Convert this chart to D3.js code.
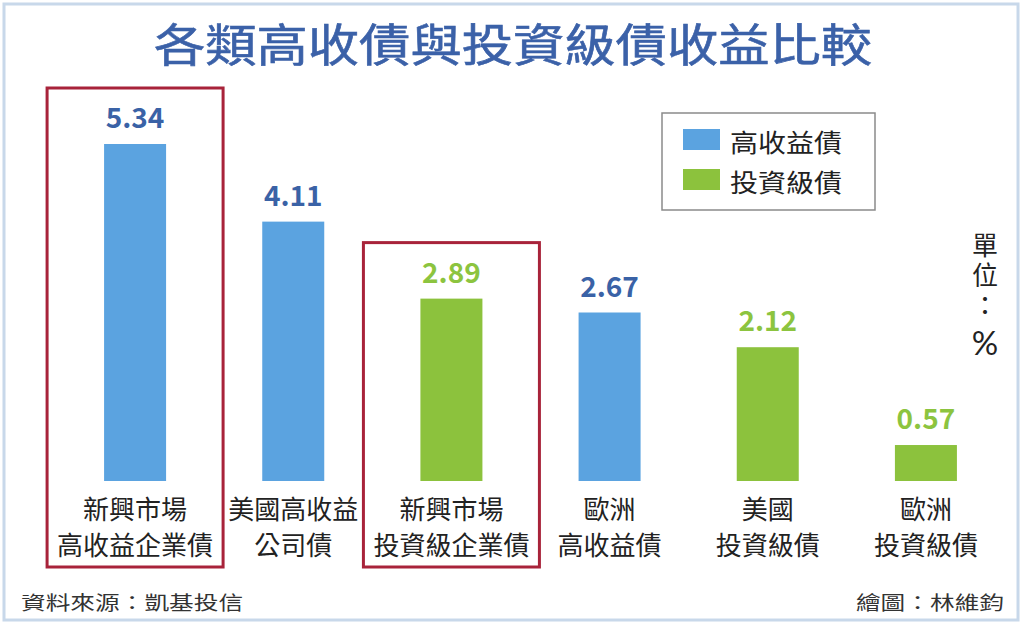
<!DOCTYPE html>
<html>
<head>
<meta charset="utf-8">
<script src="https://cdn.jsdelivr.net/npm/d3@7"></script>
<style>
  body { margin: 0; background: #fff; }
  svg { display: block; }
  text { font-family: "Noto Sans CJK TC", "Noto Sans", sans-serif; }
</style>
</head>
<body>
<div class="chart-box"></div>
<script>
// chart data
const catLine1 = ['新興市場', '美國高收益', '新興市場', '歐洲', '美國', '歐洲'];
const catLine2 = ['高收益企業債', '公司債', '投資級企業債', '高收益債', '投資級債', '投資級債'];
const values = [5.34, 4.11, 2.89, 2.67, 2.12, 0.57];
const bondType = ['高收益債', '高收益債', '投資級債', '高收益債', '投資級債', '投資級債'];
const highlighted = [true, false, true, false, false, false];
const legendItems = ['高收益債', '投資級債'];

const W = 1024, H = 628;
const BAR_COLOR = { '高收益債': '#5ba3e0', '投資級債': '#8cc23d' };
const LABEL_COLOR = { '高收益債': '#3a62a6', '投資級債': '#8cc43f' };

const svg = d3.select('.chart-box')
  .append('svg')
    .attr('width', W)
    .attr('height', H);

// outer frame
svg.append('rect')
  .attr('x', 4).attr('y', 4)
  .attr('width', 1014).attr('height', 616)
  .attr('fill', '#fff')
  .attr('stroke', '#c8d8ea')
  .attr('stroke-width', 3);

// title
svg.append('text')
  .attr('transform', 'translate(513, 62) scale(1.14, 1)')
  .attr('text-anchor', 'middle')
  .attr('font-size', 45)
  .attr('font-weight', 400)
  .attr('fill', '#3b61a8')
  .attr('stroke', '#3b61a8')
  .attr('stroke-width', 0.6)
  .text('各類高收債與投資級債收益比較');

// scales
const idx = values.map((d, i) => i);
const x = d3.scaleBand()
  .domain(idx)
  .range([56, 1005])
  .paddingInner(0.608)
  .paddingOuter(0.304);

const y = d3.scaleLinear()
  .domain([0, 5.34])
  .range([481, 144]);

const cx = i => x(i) + x.bandwidth() / 2;

// red highlight boxes
svg.selectAll('.hl-box')
  .data(idx.filter(i => highlighted[i]))
  .enter().append('rect')
    .attr('class', 'hl-box')
    .attr('x', i => cx(i) - 88)
    .attr('y', i => y(values[i]) - 56)
    .attr('width', 176)
    .attr('height', i => 567 - (y(values[i]) - 56))
    .attr('fill', 'none')
    .attr('stroke', '#a8233a')
    .attr('stroke-width', 3);

// bars
svg.selectAll('.bar')
  .data(idx)
  .enter().append('rect')
    .attr('class', 'bar')
    .attr('x', i => x(i))
    .attr('y', i => y(values[i]))
    .attr('width', x.bandwidth())
    .attr('height', i => y(0) - y(values[i]))
    .attr('fill', i => BAR_COLOR[bondType[i]]);

// value labels
svg.selectAll('.val')
  .data(idx)
  .enter().append('text')
    .attr('class', 'val')
    .attr('x', i => cx(i))
    .attr('y', i => y(values[i]) - 16)
    .attr('text-anchor', 'middle')
    .attr('font-family', 'Lato, sans-serif')
    .attr('font-weight', 'bold')
    .attr('font-size', 28)
    .attr('fill', i => LABEL_COLOR[bondType[i]])
    .text(i => values[i].toFixed(2));

// category labels
const cat = svg.selectAll('.cat')
  .data(idx)
  .enter().append('text')
    .attr('class', 'cat')
    .attr('text-anchor', 'middle')
    .attr('font-size', 26)
    .attr('fill', '#222');
cat.append('tspan')
  .attr('x', i => cx(i))
  .attr('y', 519)
  .text(i => catLine1[i]);
cat.append('tspan')
  .attr('x', i => cx(i))
  .attr('y', 555)
  .text(i => catLine2[i]);

// legend
const legend = svg.append('g');
legend.append('rect')
  .attr('x', 662).attr('y', 113)
  .attr('width', 213).attr('height', 97)
  .attr('fill', '#fff')
  .attr('stroke', '#8a8a8a')
  .attr('stroke-width', 1.5);
const li = legend.selectAll('.leg')
  .data(legendItems)
  .enter().append('g')
    .attr('class', 'leg')
    .attr('transform', (d, i) => 'translate(683, ' + (129 + i * 40) + ')');
li.append('rect')
  .attr('width', 37).attr('height', 21)
  .attr('fill', d => BAR_COLOR[d]);
li.append('text')
  .attr('transform', 'translate(47, 23) scale(1.12, 1)')
  .attr('font-size', 25)
  .attr('fill', '#222')
  .text(d => d);

// unit, written top to bottom
const unit = svg.append('text')
  .attr('x', 985)
  .attr('y', 232)
  .attr('writing-mode', 'vertical-rl')
  .style('text-orientation', 'upright')
  .attr('font-size', 26)
  .attr('letter-spacing', 4)
  .attr('fill', '#222');
unit.append('tspan').text('單位：');
unit.append('tspan')
  .attr('font-family', 'Lato, sans-serif')
  .attr('font-size', 33)
  .text('%');

// footer
svg.append('text')
  .attr('transform', 'translate(21, 610) scale(1.3, 1)')
  .attr('font-size', 19)
  .attr('fill', '#333')
  .text('資料來源：凱基投信');
svg.append('text')
  .attr('transform', 'translate(1004, 610) scale(1.3, 1)')
  .attr('text-anchor', 'end')
  .attr('font-size', 19)
  .attr('fill', '#333')
  .text('繪圖：林維鈞');
</script>
</body>
</html>
